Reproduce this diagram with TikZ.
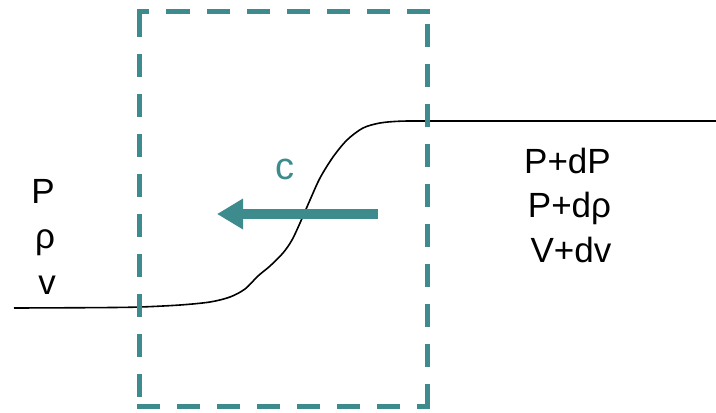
\documentclass[tikz,border=0pt]{standalone}
\usepackage{fontspec}
\setmainfont{Liberation Sans}
\usetikzlibrary{arrows.meta}
\definecolor{teal1}{RGB}{61,139,141}
\tikzset{
  boxside/.style={draw=teal1, line width=5bp, line cap=butt, dash pattern=on 23bp off 17bp},
  lbl/.style={inner sep=0pt, anchor=base, font=\fontsize{35bp}{42bp}\selectfont},
  curveline/.style={line width=1.6bp, black},
  flow/.style={draw=teal1, line width=10bp, -{Triangle[length=26bp,width=29bp]}}
}
\begin{document}
\begin{tikzpicture}[x=1bp,y=-1bp]
\useasboundingbox (0,0) rectangle (716,412);
% wave profile
\draw[curveline] plot[smooth, tension=0.5] coordinates {(14,308) (100,307.6) (140,307) (180,305) (210,302) (230,297) (245,289) (258,276) (270,266) (283,253) (292,240) (300,223) (310,200) (320,178) (333,157) (347,140) (363,128) (380,123) (400,121.2) (430,121) (550,121) (716,121)};
% dashed control volume
\coordinate (tl) at (139,11);
\coordinate (bl) at (139,406);
\coordinate (br) at (427,406);
\coordinate (tr) at (427,11);
\draw[boxside, dash phase=0] ([yshift=-2.5bp]tl) -- ([yshift=2.5bp]bl);
\draw[boxside] ([xshift=-2.5bp]bl) -- ([xshift=2.5bp]br);
\draw[boxside, dash phase=4] ([yshift=2.5bp]br) -- ([yshift=-2.5bp]tr);
\draw[boxside] ([xshift=2.5bp]tr) -- ([xshift=-2.5bp]tl);
% wave speed arrow
\coordinate (as) at (378,214);
\coordinate (ae) at (217,214);
\draw[flow] (as) -- (ae);
\node[lbl, text=teal1, font=\fontsize{38bp}{44bp}\selectfont] (c) at (285,179) {c};
% upstream state
\node[lbl] (p1) at (43,203) {P};
\node[lbl] (r1) at (45,248) {ρ};
\node[lbl] (v1) at (47,294) {v};
% downstream state
\node[lbl] (p2) at (567.5,173) {P+dP};
\node[lbl] (r2) at (569.5,217) {P+dρ};
\node[lbl] (v2) at (571,262) {V+dv};
\end{tikzpicture}
\end{document}
